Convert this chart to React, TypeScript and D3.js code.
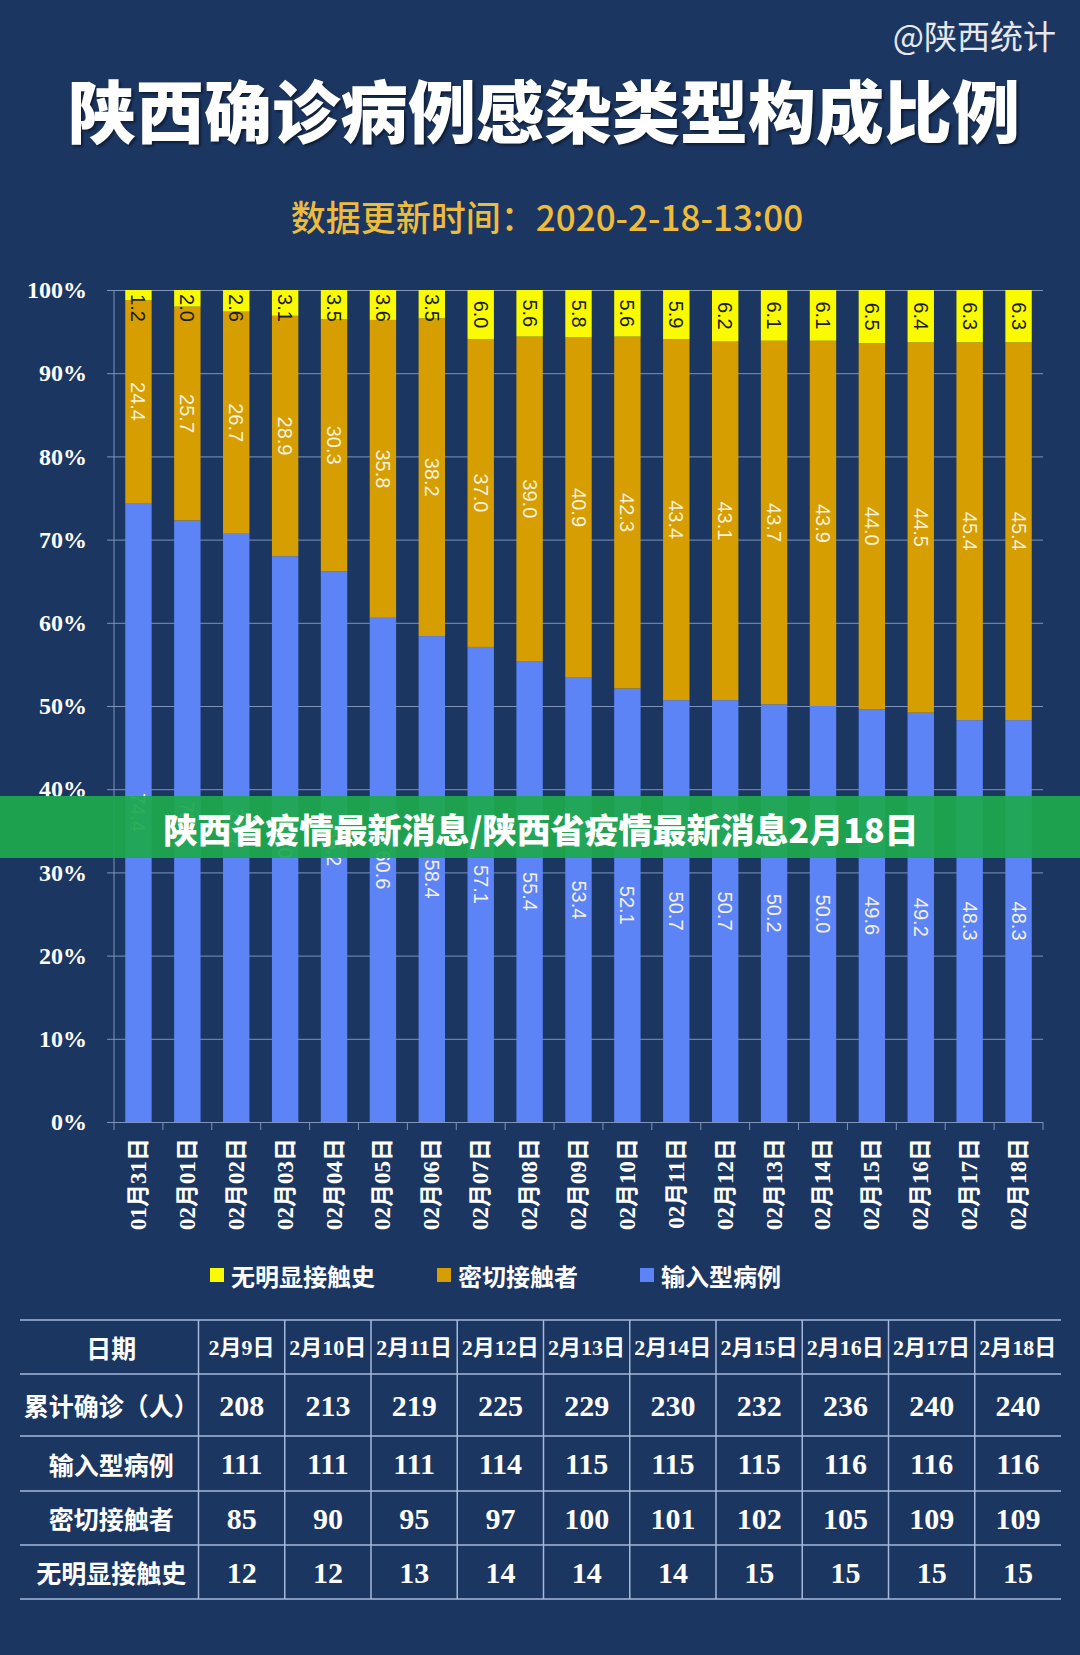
import React, { useRef, useEffect } from 'react';
import * as d3 from 'd3';

// 柱状图：每日三类病例占比（%）
const dates = [
  '01月31日', '02月01日', '02月02日', '02月03日', '02月04日', '02月05日', '02月06日',
  '02月07日', '02月08日', '02月09日', '02月10日', '02月11日', '02月12日', '02月13日',
  '02月14日', '02月15日', '02月16日', '02月17日', '02月18日'
];
const importedPct = [74.4, 72.3, 70.7, 68.0, 66.2, 60.6, 58.4, 57.1, 55.4, 53.4, 52.1, 50.7, 50.7, 50.2, 50.0, 49.6, 49.2, 48.3, 48.3];
const closeContactPct = [24.4, 25.7, 26.7, 28.9, 30.3, 35.8, 38.2, 37.0, 39.0, 40.9, 42.3, 43.4, 43.1, 43.7, 43.9, 44.0, 44.5, 45.4, 45.4];
const unknownPct = [1.2, 2.0, 2.6, 3.1, 3.5, 3.6, 3.5, 6.0, 5.6, 5.8, 5.6, 5.9, 6.2, 6.1, 6.1, 6.5, 6.4, 6.3, 6.3];
const yTicks = [0, 10, 20, 30, 40, 50, 60, 70, 80, 90, 100];

// 下方表格
const tableDates = ['2月9日', '2月10日', '2月11日', '2月12日', '2月13日', '2月14日', '2月15日', '2月16日', '2月17日', '2月18日'];
const rowLabels = ['日期', '累计确诊（人）', '输入型病例', '密切接触者', '无明显接触史'];
const cumulative = [208, 213, 219, 225, 229, 230, 232, 236, 240, 240];
const importedCount = [111, 111, 111, 114, 115, 115, 115, 116, 116, 116];
const closeContactCount = [85, 90, 95, 97, 100, 101, 102, 105, 109, 109];
const unknownCount = [12, 12, 13, 14, 14, 14, 15, 15, 15, 15];

const seriesNames = ['输入型病例', '密切接触者', '无明显接触史'];
const legendOrder = ['无明显接触史', '密切接触者', '输入型病例'];

const W = 1080;
const H = 1655;
const BG = '#1b3661';
const COLORS: Record<string, string> = {
  输入型病例: '#5d84f7',
  密切接触者: '#d69e00',
  无明显接触史: '#fafa00'
};
const GRID = '#7f93b8';
const SANS = '"Noto Sans CJK SC", "Noto Sans", sans-serif';
const SERIF = '"Liberation Serif", "DejaVu Serif", "Noto Sans CJK SC", serif';
const LABEL_FONT = '"Liberation Sans", Arial, sans-serif';

function drawChart(svgEle: SVGSVGElement) {
  const svg = d3.select(svgEle);
  svg.selectAll('*').remove();

  svg.append('rect').attr('width', W).attr('height', H).attr('fill', BG);

  // 标题
  svg
    .append('text')
    .attr('x', W - 24)
    .attr('y', 40)
    .attr('text-anchor', 'end')
    .attr('dominant-baseline', 'middle')
    .attr('font-family', SANS)
    .attr('font-size', 33)
    .attr('fill', '#e6e8ee')
    .text('@陕西统计');
  svg
    .append('text')
    .attr('x', 544)
    .attr('y', 120)
    .attr('text-anchor', 'middle')
    .attr('dominant-baseline', 'middle')
    .attr('font-family', SANS)
    .attr('font-weight', 900)
    .attr('font-size', 68)
    .attr('fill', '#ffffff')
    .style('filter', 'drop-shadow(2px 2px 1px rgba(0,0,0,0.45))')
    .text('陕西确诊病例感染类型构成比例');
  svg
    .append('text')
    .attr('x', 547)
    .attr('y', 221)
    .attr('text-anchor', 'middle')
    .attr('dominant-baseline', 'middle')
    .attr('font-family', SANS)
    .attr('font-weight', 500)
    .attr('font-size', 35)
    .attr('fill', '#eebc3c')
    .text('数据更新时间：2020-2-18-13:00');

  // 比例尺
  const left = 114;
  const right = 1043;
  const y0 = 1122;
  const y100 = 290;
  const x = d3.scaleBand<string>().domain(dates).range([left, right]).paddingInner(0.46).paddingOuter(0.23);
  const y = d3.scaleLinear().domain([0, 100]).range([y0, y100]).clamp(true);
  const step = x.step();
  const bw = x.bandwidth();

  // y 轴 + 网格线
  const yAxis = svg
    .append('g')
    .attr('transform', `translate(${left - 7}, 0)`)
    .call(
      d3
        .axisLeft(y)
        .tickValues(yTicks)
        .tickSize(-(right - left + 7))
        .tickPadding(20)
        .tickFormat((d) => `${d}%`)
    );
  yAxis.select('.domain').remove();
  yAxis.selectAll('line').attr('stroke', GRID).attr('stroke-width', 1);
  yAxis
    .selectAll('text')
    .attr('fill', '#ffffff')
    .attr('font-family', SERIF)
    .attr('font-weight', 700)
    .attr('font-size', 24);

  svg
    .append('line')
    .attr('x1', left)
    .attr('x2', left)
    .attr('y1', y100)
    .attr('y2', y0 + 8)
    .attr('stroke', GRID);

  // x 轴刻度（类别分隔处）
  const boundaries = dates.map((d) => (x(d) as number) - (step - bw) / 2).concat([right]);
  svg
    .selectAll('.xtick')
    .data(boundaries.slice(1))
    .enter()
    .append('line')
    .attr('x1', (d) => d)
    .attr('x2', (d) => d)
    .attr('y1', y0)
    .attr('y2', y0 + 8)
    .attr('stroke', GRID);

  // 堆叠数据
  const rows = dates.map((d, i) => ({
    date: d,
    输入型病例: importedPct[i],
    密切接触者: closeContactPct[i],
    无明显接触史: unknownPct[i]
  }));
  const stacked = d3.stack<any>().keys(seriesNames)(rows);

  stacked.forEach((layer) => {
    const key = layer.key;
    const g = svg.append('g');
    g.selectAll('rect')
      .data(layer)
      .enter()
      .append('rect')
      .attr('x', (d) => x(d.data.date) as number)
      .attr('width', bw)
      .attr('y', (d) => y(d[1]))
      .attr('height', (d) => y(d[0]) - y(d[1]))
      .attr('fill', COLORS[key]);

    g.selectAll('text')
      .data(layer)
      .enter()
      .append('text')
      .attr('transform', (d) => {
        const cx = (x(d.data.date) as number) + bw / 2;
        let cy = (y(d[0]) + y(d[1])) / 2;
        if (key === '无明显接触史') cy = Math.max(cy, y(d[1]) + 18);
        return `translate(${cx}, ${cy}) rotate(90)`;
      })
      .attr('text-anchor', 'middle')
      .attr('dominant-baseline', 'central')
      .attr('font-family', LABEL_FONT)
      .attr('font-size', 20)
      .attr('fill', key === '无明显接触史' ? '#1d1d1d' : '#f3f0dc')
      .text((d) => (d[1] - d[0]).toFixed(1));
  });

  // x 轴标签
  svg
    .selectAll('.xlabel')
    .data(dates)
    .enter()
    .append('text')
    .attr('transform', (d) => `translate(${(x(d) as number) + bw / 2}, ${y0 + 16}) rotate(-90)`)
    .attr('text-anchor', 'end')
    .attr('dominant-baseline', 'central')
    .attr('font-family', SERIF)
    .attr('font-weight', 700)
    .attr('font-size', 23)
    .attr('fill', '#ffffff')
    .text((d) => d);

  // 图例
  const LEGEND_FS = 24;
  const LEGEND_GAP = 62;
  let cursor = 210;
  const legendPos: number[] = [];
  legendOrder.forEach((name) => {
    legendPos.push(cursor);
    cursor += 21 + name.length * LEGEND_FS + LEGEND_GAP;
  });
  const legend = svg
    .selectAll('.legend')
    .data(legendOrder)
    .enter()
    .append('g')
    .attr('transform', (_, i) => `translate(${legendPos[i]}, 1275)`);
  legend
    .append('rect')
    .attr('x', 0)
    .attr('y', -7)
    .attr('width', 14)
    .attr('height', 14)
    .attr('fill', (d) => COLORS[d]);
  legend
    .append('text')
    .attr('x', 21)
    .attr('y', 0)
    .attr('dominant-baseline', 'central')
    .attr('font-family', SANS)
    .attr('font-weight', 700)
    .attr('font-size', LEGEND_FS)
    .attr('fill', '#ffffff')
    .text((d) => d);

  // 表格
  const tableLeft = 20;
  const firstColRight = 198.5;
  const tableRight = 1061;
  const rowEdges = [1320, 1374, 1436, 1491, 1545, 1599];
  const col = d3.scaleBand<string>().domain(tableDates).range([firstColRight, tableRight]);
  const tableStroke = '#a6b8dc';

  svg
    .selectAll('.hline')
    .data(rowEdges)
    .enter()
    .append('line')
    .attr('x1', tableLeft)
    .attr('x2', tableRight)
    .attr('y1', (d) => d)
    .attr('y2', (d) => d)
    .attr('stroke', tableStroke)
    .attr('stroke-width', 1.5);
  svg
    .selectAll('.vline')
    .data(tableDates)
    .enter()
    .append('line')
    .attr('x1', (d) => col(d) as number)
    .attr('x2', (d) => col(d) as number)
    .attr('y1', rowEdges[0])
    .attr('y2', rowEdges[rowEdges.length - 1])
    .attr('stroke', tableStroke)
    .attr('stroke-width', 1.5);

  const rowMid = (i: number) => (rowEdges[i] + rowEdges[i + 1]) / 2;
  svg
    .selectAll('.rowlabel')
    .data(rowLabels)
    .enter()
    .append('text')
    .attr('x', (tableLeft + firstColRight) / 2 + 2)
    .attr('y', (_, i) => rowMid(i))
    .attr('text-anchor', 'middle')
    .attr('dominant-baseline', 'central')
    .attr('font-family', SANS)
    .attr('font-weight', 700)
    .attr('font-size', 25)
    .attr('fill', '#ffffff')
    .text((d) => d);

  svg
    .selectAll('.datehead')
    .data(tableDates)
    .enter()
    .append('text')
    .attr('x', (d) => (col(d) as number) + col.bandwidth() / 2)
    .attr('y', rowMid(0))
    .attr('text-anchor', 'middle')
    .attr('dominant-baseline', 'central')
    .attr('font-family', SERIF)
    .attr('font-weight', 700)
    .attr('font-size', 22)
    .attr('fill', '#ffffff')
    .text((d) => d);

  const tableValues = [cumulative, importedCount, closeContactCount, unknownCount];
  tableValues.forEach((vals, r) => {
    svg
      .selectAll(`.cell${r}`)
      .data(vals)
      .enter()
      .append('text')
      .attr('x', (_, i) => (col(tableDates[i]) as number) + col.bandwidth() / 2)
      .attr('y', rowMid(r + 1))
      .attr('text-anchor', 'middle')
      .attr('dominant-baseline', 'central')
      .attr('font-family', SERIF)
      .attr('font-weight', 700)
      .attr('font-size', 30)
      .attr('fill', '#ffffff')
      .text((d) => d);
  });

  // 绿色横幅
  svg
    .append('rect')
    .attr('x', 0)
    .attr('y', 796)
    .attr('width', W)
    .attr('height', 62)
    .attr('fill', '#1ea94e')
    .attr('opacity', 0.93);
  svg
    .append('text')
    .attr('x', 541)
    .attr('y', 828)
    .attr('text-anchor', 'middle')
    .attr('dominant-baseline', 'central')
    .attr('font-family', SANS)
    .attr('font-weight', 900)
    .attr('font-size', 34)
    .attr('fill', '#ffffff')
    .text('陕西省疫情最新消息/陕西省疫情最新消息2月18日');
}

export default function App(): JSX.Element {
  const svgRef = useRef<SVGSVGElement>(null);

  useEffect(() => {
    document.body.style.margin = '0';
    const svgEle = svgRef.current;
    if (svgEle == null) {
      return;
    }
    drawChart(svgEle);
  }, []);

  return <svg ref={svgRef} width={W} height={H} style={{ display: 'block' }} />;
}
